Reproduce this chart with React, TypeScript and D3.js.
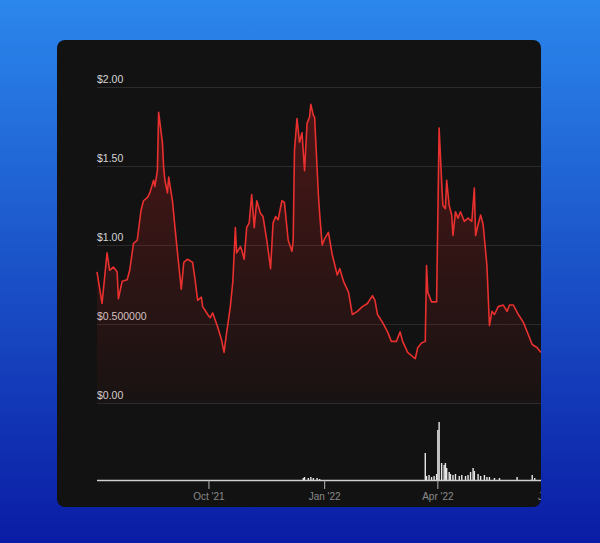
import React from "react";
import * as d3 from "d3";

const START = "2021-07-04";
const END = "2022-06-22";

const priceDays = [0,4,8,10,13,16,17,20,24,26,29,32,35,37,40,42,45,46,48,49,52,53,54,56,57,60,62,64,67,69,72,76,78,80,83,84,88,90,92,96,99,101,103,106,108,110,111,114,115,117,119,121,123,125,127,130,132,135,138,140,142,144,147,149,152,155,156,157,159,161,163,165,167,169,170,172,173,176,177,179,181,184,187,191,193,196,200,203,207,211,215,219,221,223,227,231,234,238,241,243,247,253,255,258,261,262,263,266,270,272,274,275,277,278,280,282,283,285,287,289,292,295,298,300,301,303,305,307,310,312,314,316,319,323,326,328,331,335,339,343,346,350,353];
const priceValues = [0.83,0.63,0.95,0.84,0.86,0.83,0.66,0.77,0.78,0.84,1.01,1.03,1.22,1.28,1.30,1.33,1.41,1.37,1.47,1.84,1.65,1.49,1.41,1.33,1.43,1.28,1.11,0.95,0.72,0.89,0.91,0.89,0.78,0.65,0.67,0.61,0.56,0.54,0.57,0.48,0.40,0.32,0.44,0.61,0.77,1.11,0.95,0.99,0.97,0.91,1.11,1.14,1.32,1.11,1.28,1.20,1.18,1.03,0.85,1.14,1.18,1.16,1.28,1.27,1.03,0.96,1.03,1.60,1.80,1.65,1.71,1.47,1.77,1.81,1.89,1.82,1.81,1.32,1.20,1.00,1.04,1.08,0.94,0.81,0.85,0.77,0.70,0.56,0.58,0.61,0.63,0.68,0.65,0.56,0.51,0.45,0.39,0.39,0.45,0.39,0.32,0.28,0.35,0.38,0.39,0.87,0.70,0.64,0.64,1.74,1.40,1.25,1.23,1.41,1.25,1.19,1.06,1.21,1.17,1.21,1.15,1.17,1.15,1.36,1.06,1.13,1.19,1.13,0.87,0.49,0.58,0.56,0.61,0.62,0.58,0.62,0.62,0.56,0.51,0.43,0.37,0.35,0.32];

const volumeDays = [164,165,168,170,172,175,177,261,262,264,266,268,270,271,272,274,276,277,278,280,281,283,285,288,290,293,295,297,299,300,303,305,308,310,312,316,320,334,346,348];
const volumeValues = [2,3,2,3,2,2,1,27,4,5,3,4,6,50,58,17,15,17,12,8,6,5,6,4,5,4,5,8,12,9,6,4,5,3,3,2,2,3,5,2];

const yTicks = [0, 0.5, 1, 1.5, 2];
const yTickLabels = ["$0.00", "$0.500000", "$1.00", "$1.50", "$2.00"];
const xTickDates = ["2021-10-01", "2022-01-01", "2022-04-01", "2022-07-01"];
const xTickLabels = ["Oct '21", "Jan '22", "Apr '22", "Jul '22"];

const W = 600;
const H = 543;
const CARD = { x: 57, y: 40, w: 484, h: 467, r: 8 };

export default function App() {
  const start = new Date(START + "T00:00:00Z");
  const x = d3.scaleUtc().domain([start, new Date(END + "T00:00:00Z")]).range([97, 541]);
  const y = d3.scaleLinear().domain([0, 2]).range([403, 87]);
  const v = d3.scaleLinear().domain([0, 58]).range([480, 422]);

  const pts = priceDays.map((d, i) => ({ date: d3.utcDay.offset(start, d), p: priceValues[i] }));
  const line = d3.line<any>().x((d) => x(d.date)).y((d) => y(d.p)).curve(d3.curveLinear);
  const area = d3.area<any>().x((d) => x(d.date)).y0(y(0)).y1((d) => y(d.p)).curve(d3.curveLinear);

  return (
    <svg width={W} height={H} style={{ position: "absolute", left: 0, top: 0 }} fontFamily="'Liberation Sans', Arial, sans-serif">
      <defs>
        <linearGradient id="bg" x1="0" y1="0" x2="0" y2="1">
          <stop offset="0%" stopColor="#2b87ec" />
          <stop offset="100%" stopColor="#0a1ca4" />
        </linearGradient>
        <linearGradient id="fill" x1="0" y1={y(1.9)} x2="0" y2={y(0)} gradientUnits="userSpaceOnUse">
          <stop offset="0%" stopColor="#c0201f" stopOpacity={0.32} />
          <stop offset="100%" stopColor="#c0201f" stopOpacity={0.04} />
        </linearGradient>
        <clipPath id="card">
          <rect x={CARD.x} y={CARD.y} width={CARD.w} height={CARD.h} rx={CARD.r} />
        </clipPath>
      </defs>
      <rect x={0} y={0} width={W} height={H} fill="url(#bg)" />
      <rect x={CARD.x} y={CARD.y} width={CARD.w} height={CARD.h} rx={CARD.r} fill="#121212" />
      <g clipPath="url(#card)">
        {yTicks.map((t, i) => (
          <g key={t}>
            <line x1={97} x2={541} y1={y(t) + 0.5} y2={y(t) + 0.5} stroke="#2b2b2b" strokeWidth={1} />
            <text x={97} y={y(t) - 4} fill="#d6d6d6" fontSize={10.5}>{yTickLabels[i]}</text>
          </g>
        ))}
        <path d={area(pts) || ""} fill="url(#fill)" />
        <path d={line(pts) || ""} fill="none" stroke="#e8302f" strokeWidth={1.6} strokeLinejoin="round" />
        {volumeDays.map((d, i) => {
          const cx = x(d3.utcDay.offset(start, d));
          return <rect key={d} x={cx - 0.7} width={1.4} y={v(volumeValues[i])} height={v(0) - v(volumeValues[i])} fill="#e6e6e6" />;
        })}
        <line x1={97} x2={560} y1={480.5} y2={480.5} stroke="#cfcfcf" strokeWidth={1.5} />
        {xTickDates.map((s, i) => {
          const tx = x(new Date(s + "T00:00:00Z"));
          return (
            <g key={s}>
              <line x1={tx} x2={tx} y1={480} y2={489} stroke="#b5b5b5" strokeWidth={1} />
              <text x={tx} y={500} textAnchor="middle" fill="#8a8a8a" fontSize={10}>{xTickLabels[i]}</text>
            </g>
          );
        })}
      </g>
    </svg>
  );
}
